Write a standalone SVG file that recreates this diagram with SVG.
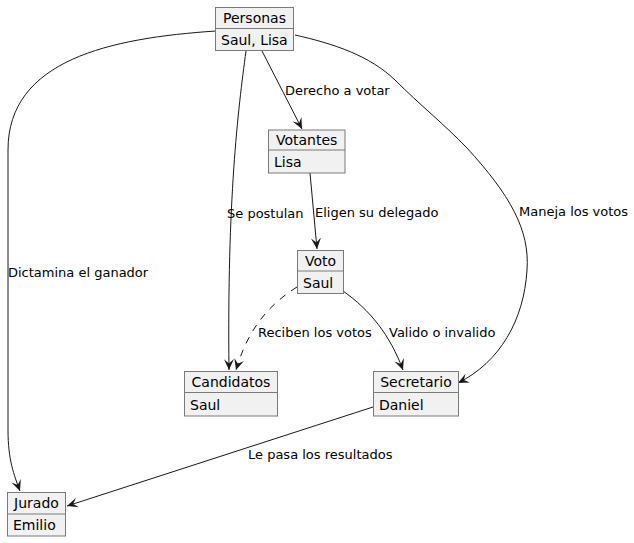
<svg xmlns="http://www.w3.org/2000/svg" width="634" height="543" viewBox="0 0 634 543">
<style>
.box{fill:#F1F1F1;stroke:#7a7a7a;stroke-width:1}
.sep{stroke:#7a7a7a;stroke-width:1}
.t{font-family:"DejaVu Sans",sans-serif;font-size:14px;fill:#000}
.l{font-family:"DejaVu Sans",sans-serif;font-size:13px;fill:#000}
.e{fill:none;stroke:#181818;stroke-width:1}
.d{stroke-dasharray:7,7}
</style>
<defs>
<marker id="a" viewBox="0 0 11 10" refX="11" refY="5" markerWidth="11" markerHeight="10" markerUnits="userSpaceOnUse" orient="auto">
<path d="M0,0 L11,5 L0,10 L4.5,5 Z" fill="#181818"/>
</marker>
</defs>
<g id="connectors">
<path class="e" marker-end="url(#a)" d="M216,31 C110,38 8,60 8,150 L8,430 C8,460 14,475 20,491"/>
<path class="e" marker-end="url(#a)" d="M246,51 C238,110 227,200 229,370"/>
<path class="e" marker-end="url(#a)" d="M262,51 L302,129"/>
<path class="e" marker-end="url(#a)" d="M295,35 C335,44 370,56 395,80 C420,105 445,125 467,148 C510,195 530,230 527,270 C524,320 500,362 458,383"/>
<path class="e" marker-end="url(#a)" d="M310,173 L317,249"/>
<path class="e d" marker-end="url(#a)" d="M297,287 C260,310 245,340 236,370"/>
<path class="e" marker-end="url(#a)" d="M343,291 C370,310 390,335 403,370"/>
<path class="e" marker-end="url(#a)" d="M373,407 L67,506"/>
<text class="l" x="8" y="277">Dictamina el ganador</text>
<text class="l" x="227" y="218">Se postulan</text>
<text class="l" x="285" y="95">Derecho a votar</text>
<text class="l" x="519" y="216">Maneja los votos</text>
<text class="l" x="315" y="217">Eligen su delegado</text>
<text class="l" x="258" y="337">Reciben los votos</text>
<text class="l" x="389" y="337">Valido o invalido</text>
<text class="l" x="248" y="459">Le pasa los resultados</text>
</g>
<g id="Personas">
<rect class="box" x="215.5" y="7.5" width="78" height="43"/>
<line class="sep" x1="215.5" y1="28.5" x2="293.5" y2="28.5"/>
<text class="t" x="254.5" y="23" text-anchor="middle">Personas</text>
<text class="t" x="221" y="45">Saul, Lisa</text>
</g>
<g id="Votantes">
<rect class="box" x="268.5" y="130" width="76.5" height="43"/>
<line class="sep" x1="268.5" y1="150" x2="345" y2="150"/>
<text class="t" x="306.7" y="145" text-anchor="middle">Votantes</text>
<text class="t" x="274" y="167">Lisa</text>
</g>
<g id="Voto">
<rect class="box" x="297.5" y="250.5" width="46" height="43"/>
<line class="sep" x1="297.5" y1="271" x2="343.5" y2="271"/>
<text class="t" x="320.5" y="266" text-anchor="middle">Voto</text>
<text class="t" x="303" y="288">Saul</text>
</g>
<g id="Candidatos">
<rect class="box" x="184.5" y="371.5" width="93" height="44.5"/>
<line class="sep" x1="184.5" y1="392.5" x2="277.5" y2="392.5"/>
<text class="t" x="231" y="387" text-anchor="middle">Candidatos</text>
<text class="t" x="190" y="410">Saul</text>
</g>
<g id="Secretario">
<rect class="box" x="373.5" y="371.5" width="85" height="44.5"/>
<line class="sep" x1="373.5" y1="392.5" x2="458.5" y2="392.5"/>
<text class="t" x="416" y="387" text-anchor="middle">Secretario</text>
<text class="t" x="379" y="410">Daniel</text>
</g>
<g id="Jurado">
<rect class="box" x="7.5" y="492.5" width="58" height="43.5"/>
<line class="sep" x1="7.5" y1="514" x2="65.5" y2="514"/>
<text class="t" x="36.5" y="508" text-anchor="middle">Jurado</text>
<text class="t" x="13" y="530">Emilio</text>
</g>
</svg>
